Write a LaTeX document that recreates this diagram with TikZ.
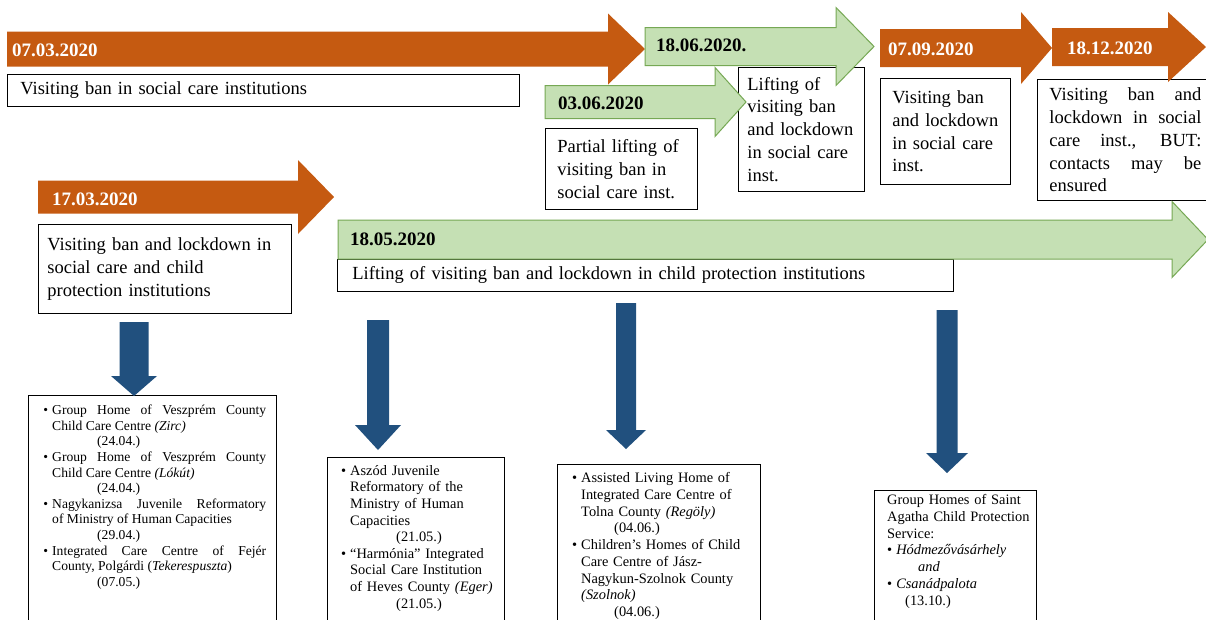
\documentclass[tikz,border=0pt]{standalone}
\usepackage{fontspec}
\setmainfont{Liberation Serif}
\usetikzlibrary{calc}
\definecolor{orng}{RGB}{197,90,17}
\definecolor{grnfill}{RGB}{197,224,180}
\definecolor{grnline}{RGB}{118,168,84}
\definecolor{blu}{RGB}{33,80,126}
\hyphenpenalty=10000
\newcommand{\mainfs}{\fontsize{18.5}{22.8}\selectfont}
\newcommand{\harrow}[7]{%
  \path[#1] (#2,#5-#6) -- (#3,#5-#6) -- (#3,#5-#7) -- (#4,#5) -- (#3,#5+#7) -- (#3,#5+#6) -- (#2,#5+#6) -- cycle;}
\newcommand{\varrow}[7]{%
  \path[#1] (#2-#6,#3) -- (#2+#6,#3) -- (#2+#6,#4) -- (#2+#7,#4) -- (#2,#5) -- (#2-#7,#4) -- (#2-#6,#4) -- cycle;}
\newcommand{\bul}{\leavevmode\llap{\textbullet\hspace{4pt}}}
\tikzset{
  orangearrow/.style={fill=orng},
  greenarrow/.style={fill=grnfill, draw=grnline, line width=1pt},
  bluearrow/.style={fill=blu},
  datew/.style={text=white, font=\fontsize{19}{23}\selectfont\bfseries, anchor=west, inner sep=0pt},
  dateb/.style={text=black, font=\fontsize{19}{23}\selectfont\bfseries, anchor=west, inner sep=0pt},
  infobox/.style={draw=black, line width=0.8pt, fill=white, anchor=north west, align=left, inner ysep=0pt, font=\mainfs},
  frame/.style={draw=black, line width=0.8pt, fill=white, anchor=north west, inner sep=0pt, minimum height=240pt},
  listtxt/.style={anchor=north west, inner sep=0pt, align=left},
}
\begin{document}
\begin{tikzpicture}[x=1pt,y=-1pt]
\useasboundingbox (0,0) rectangle (1206,619);
\clip (0,0) rectangle (1206,619);
\fill[white] (0,0) rectangle (1206,619);

% ---------- info boxes ----------
\node[infobox, inner xsep=13pt, text width=486pt, minimum height=32pt] (b1) at (7,74)
  {Visiting ban in social care institutions};
\node[infobox, inner xsep=12pt, text width=128pt, minimum height=81pt] (bp) at (545,128)
  {Partial lifting of\\visiting ban in\\social care inst.};
\node[infobox, inner xsep=9pt, text width=108pt, minimum height=124pt] (bl) at (738,67)
  {Lifting of\\visiting ban\\and lockdown\\in social care\\inst.};
\node[infobox, inner xsep=12pt, text width=106pt, minimum height=106pt] (bv2) at (880,78)
  {Visiting ban\\and lockdown\\in social care\\inst.};
\node[infobox, align=justify, inner xsep=12pt, text width=152pt, minimum height=121pt] (bv3) at (1037,79)
  {Visiting ban and\linebreak lockdown in social\linebreak care inst., BUT:\linebreak contacts may be\linebreak ensured};
\node[infobox, inner xsep=9pt, text width=235pt, minimum height=89pt] (bt) at (38,224)
  {Visiting ban and lockdown in\\social care and child\\protection institutions};
\node[infobox, inner xsep=15pt, text width=586pt, minimum height=32pt] (bl2) at (337,259)
  {Lifting of visiting ban and lockdown in child protection institutions};

% ---------- timeline arrows ----------
\harrow{orangearrow}{7}{608}{645}{49}{17.5}{35.5}
\harrow{greenarrow}{645}{836}{874}{46.5}{19}{39}
\harrow{greenarrow}{545}{715}{746}{102}{16.5}{34.5}
\harrow{orangearrow}{880}{1021}{1052}{48}{19}{36}
\harrow{orangearrow}{1052}{1168}{1206}{47}{19}{35}
\harrow{orangearrow}{38}{298}{334}{197}{16.5}{37}
\harrow{greenarrow}{338}{1172}{1208}{239.5}{19.5}{38}

\node[datew] (d0703) at (12,50) {07.03.2020};
\node[dateb] (d1806) at (656,45) {18.06.2020.};
\node[dateb] (d0306) at (558,103) {03.06.2020};
\node[datew] (d0709) at (888,49) {07.09.2020};
\node[datew] (d1812) at (1067,48) {18.12.2020};
\node[datew] (d1703) at (52,199) {17.03.2020};
\node[dateb] (d1805) at (350,239) {18.05.2020};

% ---------- bottom frames ----------
\node[frame, minimum width=248pt] (f1) at (28,395) {};
\node[frame, minimum width=177pt] (f2) at (327,457) {};
\node[frame, minimum width=203pt] (f3) at (557,464) {};
\node[frame, minimum width=162pt] (f4) at (874,490) {};

% ---------- blue arrows ----------
\varrow{bluearrow}{134}{322}{376}{396}{14.5}{23}
\varrow{bluearrow}{378}{320}{425}{450}{11}{23}
\varrow{bluearrow}{626}{303}{430}{449}{10}{20}
\varrow{bluearrow}{947}{310}{453}{473}{10.5}{21}

% ---------- lists ----------
\node[listtxt, align=justify, text width=214pt, font=\fontsize{13.6}{15.6}\selectfont] (c1) at (52,405) {%
\bul Group Home of Veszprém County\linebreak Child Care Centre \textit{(Zirc)}\par
\hspace*{45pt}(24.04.)\par
\bul Group Home of Veszprém County\linebreak Child Care Centre \textit{(Lókút)}\par
\hspace*{45pt}(24.04.)\par
\bul Nagykanizsa Juvenile Reformatory\linebreak of Ministry of Human Capacities\par
\hspace*{45pt}(29.04.)\par
\bul Integrated Care Centre of Fejér\linebreak County, Polgárdi (\textit{Tekerespuszta})\par
\hspace*{45pt}(07.05.)};

\node[listtxt, text width=150pt, font=\fontsize{14.4}{16.6}\selectfont] (c2) at (350,465) {%
\bul Aszód Juvenile\\Reformatory of the\\Ministry of Human\\Capacities\\
\hspace*{46pt}(21.05.)\\
\bul “Harmónia” Integrated\\Social Care Institution\\of Heves County \textit{(Eger)}\\
\hspace*{46pt}(21.05.)};

\node[listtxt, text width=175pt, font=\fontsize{14.4}{16.7}\selectfont] (c3) at (581,472.5) {%
\bul Assisted Living Home of\\Integrated Care Centre of\\Tolna County \textit{(Regöly)}\\
\hspace*{33pt}(04.06.)\\
\bul Children’s Homes of Child\\Care Centre of Jász-\\Nagykun-Szolnok County\\\textit{(Szolnok)}\\
\hspace*{33pt}(04.06.)};

\node[listtxt, text width=150pt, font=\fontsize{14.4}{16.7}\selectfont] (c4) at (887,494.5) {%
Group Homes of Saint\\Agatha Child Protection\\Service:\\
\textbullet\hspace{4pt}\textit{Hódmezővásárhely}\\
\hspace*{31pt}\textit{and}\\
\textbullet\hspace{4pt}\textit{Csanádpalota}\\
\hspace*{18pt}(13.10.)};
\end{tikzpicture}
\end{document}
